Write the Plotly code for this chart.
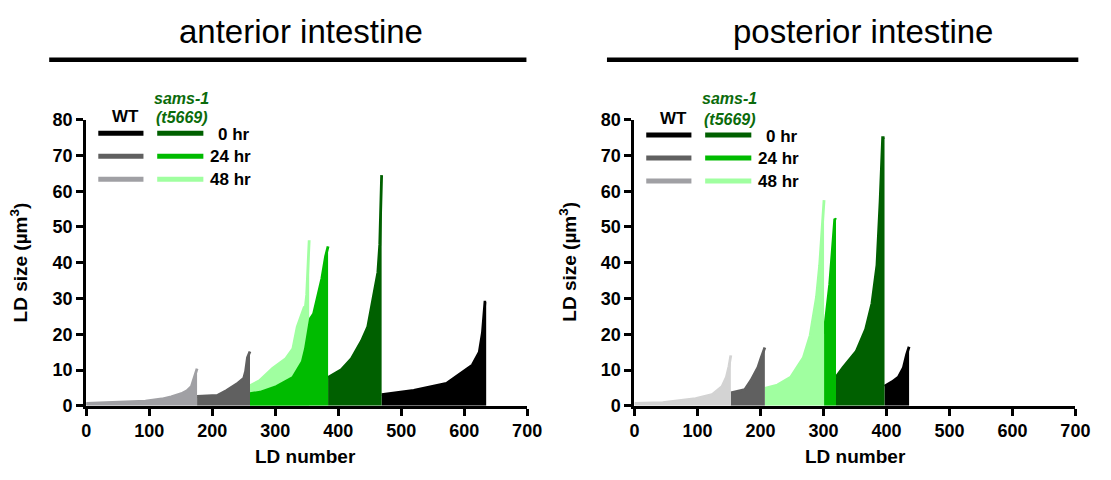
import plotly.graph_objects as go

W, H = 1111, 480
FONT = "Liberation Sans, Arial, Helvetica, sans-serif"

# ---- Ranked LD sizes (LD number, size in um^3), anterior intestine ----
ant_wt48_rank = [0, 40, 94, 120, 135, 151, 160, 167, 172, 174, 176]
ant_wt48_size = [0.7, 0.9, 1.3, 1.9, 2.5, 3.4, 4.2, 5.4, 7.9, 9.5, 10.4]
ant_wt24_rank = [176, 190, 208, 223, 239, 250, 253, 256, 259, 260]
ant_wt24_size = [2.6, 2.7, 2.9, 4.3, 6.1, 7.7, 9.6, 13.5, 15.2, 15.2]
ant_s48_rank = [260, 275, 296, 317, 328, 335, 346, 348, 350, 352, 354]
ant_s48_size = [5.6, 7.0, 10.5, 13.2, 15.9, 22.1, 27.5, 27.7, 31.0, 40.9, 46.3]
ant_s24_rank = [260, 276, 302, 328, 343, 348, 356, 361, 374, 380, 384]
ant_s24_size = [3.4, 3.8, 5.4, 7.9, 12.3, 15.9, 24.4, 25.7, 35.5, 41.8, 44.6]
ant_s0_rank = [384, 405, 421, 437, 447, 457, 463, 466, 468, 469]
ant_s0_size = [7.9, 10.1, 13.2, 18.1, 22.1, 31.0, 37.3, 45.0, 58.0, 64.5]
ant_wt0_rank = [469, 520, 572, 592, 613, 624, 629, 633, 635]
ant_wt0_size = [3.1, 4.3, 6.3, 8.8, 11.4, 15.0, 20.4, 29.0, 29.0]

# ---- Ranked LD sizes, posterior intestine ----
pos_wt48_rank = [0, 45, 97, 123, 139, 146, 150, 153]
pos_wt48_size = [0.7, 0.9, 2.0, 3.1, 5.4, 8.0, 11.0, 14.1]
pos_wt24_rank = [153, 175, 185, 196, 201, 206, 207]
pos_wt24_size = [3.6, 4.5, 7.1, 10.7, 13.4, 16.3, 16.3]
pos_s48_rank = [207, 227, 248, 268, 279, 289, 294, 297, 301]
pos_s48_size = [4.9, 5.8, 8.0, 13.4, 19.7, 30.4, 39.3, 48.0, 57.5]
pos_s24_rank = [301, 310, 318, 320]
pos_s24_size = [20.1, 34.0, 52.3, 52.0]
pos_s0_rank = [320, 331, 352, 367, 377, 385, 390, 394, 397]
pos_s0_size = [8.0, 10.7, 15.2, 21.4, 28.6, 39.3, 57.2, 75.0, 75.0]
pos_wt0_rank = [397, 409, 419, 427, 432, 435, 436]
pos_wt0_size = [5.5, 6.7, 8.0, 10.7, 14.3, 16.5, 16.5]

x_ticks = [0, 100, 200, 300, 400, 500, 600, 700]
y_ticks = [0, 10, 20, 30, 40, 50, 60, 70, 80]
panel_titles = ["anterior intestine", "posterior intestine"]

C_WT0, C_WT24, C_WT48 = "#000000", "#606060", "#a0a0a4"
C_WT48_POST = "#d3d3d3"
C_S0, C_S24, C_S48 = "#006000", "#00bb00", "#a0ffa0"
C_LABEL_GREEN = "#0b6b0b"


# page pixel -> paper fraction
def px(x):
    return x / W


def py(y):
    return 1 - y / H


fig = go.Figure()


def add_area(rank, size, color, xa, ya):
    fig.add_trace(go.Scatter(
        x=rank, y=size, mode="lines", fill="tozeroy",
        line=dict(color=color, width=2.8), fillcolor=color,
        xaxis=xa, yaxis=ya, showlegend=False, hoverinfo="skip"))


# Anterior panel (drawn back to front)
add_area(ant_wt0_rank, ant_wt0_size, C_WT0, "x", "y")
add_area(ant_s0_rank, ant_s0_size, C_S0, "x", "y")
add_area(ant_s48_rank, ant_s48_size, C_S48, "x", "y")
add_area(ant_s24_rank, ant_s24_size, C_S24, "x", "y")
add_area(ant_wt24_rank, ant_wt24_size, C_WT24, "x", "y")
add_area(ant_wt48_rank, ant_wt48_size, C_WT48, "x", "y")

# Posterior panel
add_area(pos_wt0_rank, pos_wt0_size, C_WT0, "x2", "y2")
add_area(pos_s0_rank, pos_s0_size, C_S0, "x2", "y2")
add_area(pos_s24_rank, pos_s24_size, C_S24, "x2", "y2")
add_area(pos_s48_rank, pos_s48_size, C_S48, "x2", "y2")
add_area(pos_wt24_rank, pos_wt24_size, C_WT24, "x2", "y2")
add_area(pos_wt48_rank, pos_wt48_size, C_WT48_POST, "x2", "y2")

tickfont = dict(family=FONT, size=18, color="black")
axis_common = dict(showline=True, linewidth=3, linecolor="black",
                   ticks="outside", ticklen=7, tickwidth=3, tickcolor="black",
                   showgrid=False, zeroline=False, tickfont=tickfont)

xtext = [f"<b>{v}</b>" for v in x_ticks]
ytext = [f"<b>{v}</b>" for v in y_ticks]

panels = [
    dict(x0=82.7, x1=531.7, y0=413, y1=114.5),
    dict(x0=641, x1=1090, y0=413, y1=114.5),
]

fig.update_layout(
    width=W, height=H, margin=dict(l=0, r=0, t=0, b=0),
    paper_bgcolor="white", plot_bgcolor="white", showlegend=False,
    xaxis=dict(domain=[px(panels[0]["x0"]), px(panels[0]["x1"])], range=[0, 700],
               tickvals=x_ticks, ticktext=xtext, anchor="y", **axis_common),
    yaxis=dict(domain=[py(panels[0]["y0"]), py(panels[0]["y1"])], range=[0, 80],
               tickvals=y_ticks, ticktext=ytext, anchor="x", **axis_common),
    xaxis2=dict(domain=[px(panels[1]["x0"]), px(panels[1]["x1"])], range=[0, 700],
                tickvals=x_ticks, ticktext=xtext, anchor="y2", **axis_common),
    yaxis2=dict(domain=[py(panels[1]["y0"]), py(panels[1]["y1"])], range=[0, 80],
                tickvals=y_ticks, ticktext=ytext, anchor="x2", **axis_common),
)

shapes = []
annotations = []


def text(x, y, s, size, color="black", xanchor="center", angle=0):
    annotations.append(dict(
        x=px(x), y=py(y), xref="paper", yref="paper", text=s, showarrow=False,
        xanchor=xanchor, yanchor="middle", textangle=angle,
        font=dict(family=FONT, size=size, color=color)))


def hline(x0, x1, y, color, width):
    shapes.append(dict(type="line", xref="paper", yref="paper",
                       x0=px(x0), x1=px(x1), y0=py(y), y1=py(y),
                       line=dict(color=color, width=width)))


title_centers = [301, 874]
title_lines = [(45, 531), (613, 1093)]
axis_title_x = [306, 866]
legend_dx = [0, 558]
legend_dy = [0, 2]
wt_colors = [C_WT0, C_WT24, C_WT48]
s_colors = [C_S0, C_S24, C_S48]

for i in range(2):
    text(title_centers[i], 22, panel_titles[i], 33)
    hline(title_lines[i][0], title_lines[i][1], 52, "black", 4.5)
    text(axis_title_x[i], 466, "<b>LD number</b>", 19)
    text(panels[i]["x0"] - 68, 263, "<b>LD size (µm<sup>3</sup>)</b>", 19, angle=-90)

    dx, dy = legend_dx[i], legend_dy[i]
    text(123 + dx, 111 + dy, "<b>WT</b>", 17)
    text(180 + dx, 92, "<b><i>sams-1</i></b>", 16, color=C_LABEL_GREEN)
    text(180 + dx, 112 + dy, "<b><i>(t5669)</i></b>", 16, color=C_LABEL_GREEN)
    row_y = [128.5 + dy, 152.5 + dy, 176.5 + dy]
    for k in range(3):
        hline(95 + dx, 141 + dx, row_y[k], wt_colors[k], 5)
        hline(155 + dx, 202 + dx, row_y[k], s_colors[k], 5)
    text(215 + dx, row_y[0] + 1, "<b>0 hr</b>", 17, xanchor="left")
    text(207 + dx, row_y[1], "<b>24 hr</b>", 17, xanchor="left")
    text(207 + dx, row_y[2], "<b>48 hr</b>", 17, xanchor="left")

fig.update_layout(shapes=shapes, annotations=annotations)
fig.write_html("out.html")
